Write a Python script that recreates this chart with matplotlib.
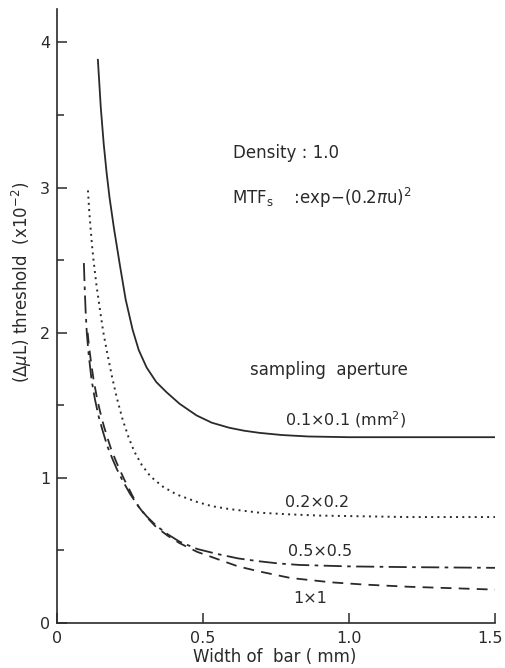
import matplotlib
matplotlib.use("Agg")
import matplotlib.pyplot as plt
import matplotlib.transforms as mtransforms
from matplotlib.ticker import MultipleLocator

# ---- data ----
x_01 = [0.14, 0.15, 0.16, 0.17, 0.18, 0.195, 0.215, 0.235, 0.259, 0.28, 0.307, 0.34, 0.375,
        0.42, 0.478, 0.53, 0.59, 0.64, 0.693, 0.77, 0.86, 1.0, 1.2, 1.5]
y_01 = [3.88, 3.55, 3.30, 3.10, 2.93, 2.72, 2.47, 2.23, 2.02, 1.88, 1.76, 1.66, 1.59,
        1.51, 1.43, 1.38, 1.345, 1.325, 1.31, 1.295, 1.285, 1.28, 1.28, 1.28]

x_02 = [0.106, 0.11, 0.115, 0.12, 0.125, 0.135, 0.147, 0.158, 0.17, 0.188, 0.205, 0.225, 0.245,
        0.265, 0.29, 0.32, 0.362, 0.41, 0.478, 0.53, 0.59, 0.693, 0.8, 0.9, 1.2, 1.5]
y_02 = [2.98, 2.85, 2.72, 2.60, 2.50, 2.33, 2.16, 2.01, 1.88, 1.70, 1.55, 1.40, 1.28,
        1.18, 1.09, 1.01, 0.94, 0.885, 0.835, 0.805, 0.785, 0.76, 0.748, 0.74, 0.73, 0.73]

x_05 = [0.092, 0.095, 0.098, 0.102, 0.108, 0.118, 0.13, 0.143, 0.157, 0.172, 0.19, 0.205, 0.225,
        0.25, 0.28, 0.307, 0.34, 0.38, 0.42, 0.48, 0.55, 0.62, 0.693, 0.76, 0.83, 1.0, 1.2, 1.5]
y_05 = [2.48, 2.30, 2.15, 2.00, 1.86, 1.68, 1.54, 1.42, 1.32, 1.22, 1.13, 1.06, 0.98,
        0.89, 0.80, 0.735, 0.67, 0.61, 0.56, 0.51, 0.475, 0.445, 0.425, 0.41, 0.40, 0.39, 0.385, 0.38]

x_1 = [0.105, 0.11, 0.117, 0.125, 0.135, 0.147, 0.16, 0.172, 0.185, 0.205, 0.23, 0.26, 0.28,
       0.307, 0.34, 0.38, 0.42, 0.48, 0.55, 0.62, 0.693, 0.8, 0.94, 1.05, 1.2, 1.35, 1.5]
y_1 = [2.00, 1.90, 1.79, 1.68, 1.57, 1.46, 1.36, 1.28, 1.20, 1.10, 0.99, 0.87, 0.80,
       0.73, 0.66, 0.60, 0.55, 0.49, 0.44, 0.39, 0.355, 0.31, 0.28, 0.265, 0.25, 0.24, 0.23]

x_ticks = [0, 0.5, 1.0, 1.5]
x_tick_labels = ["0", "0.5", "1.0", "1.5"]
y_ticks = [0, 1, 2, 3, 4]
y_tick_labels = ["0", "1", "2", "3", "4"]

series_labels = ["0.1\u00d70.1 (mm$^2$)", "0.2\u00d70.2", "0.5\u00d70.5", "1\u00d71"]

# ---- figure ----
W, H = 506, 668
fig = plt.figure(figsize=(W / 100, H / 100), dpi=100)
ax = fig.add_axes([57 / W, 1 - 623 / H, (495 - 57) / W, (623 - 9) / H])

col = "#2a2a2a"
ax.plot(x_01, y_01, color=col, lw=1.3, ls="-")
ax.plot(x_02, y_02, color=col, lw=1.4, ls=(0, (1, 2.2)))
ax.plot(x_05, y_05, color=col, lw=1.3, ls=(0, (10, 3, 2, 3)))
ax.plot(x_1, y_1, color=col, lw=1.3, ls=(0, (6, 4)))

ax.set_xlim(0, 1.5)
ax.set_ylim(0, 4.23)
for s in ["top", "right"]:
    ax.spines[s].set_visible(False)
for s in ["left", "bottom"]:
    ax.spines[s].set_color(col)
    ax.spines[s].set_linewidth(1.2)

ax.set_xticks(x_ticks)
ax.set_xticklabels(x_tick_labels)
ax.set_yticks(y_ticks)
ax.set_yticklabels(y_tick_labels)
ax.yaxis.set_minor_locator(MultipleLocator(0.5))
ax.tick_params(axis="both", which="major", direction="in", length=7, width=1.1,
               color=col, labelsize=11.5, labelcolor=col)
ax.tick_params(axis="y", which="minor", direction="in", length=5, width=1.1, color=col)
ax.tick_params(axis="x", which="major", pad=6)
ax.tick_params(axis="y", which="major", pad=5)

# nudge the last x tick label so it stays inside the canvas
last = ax.get_xticklabels()[-1]
last.set_transform(last.get_transform() + mtransforms.ScaledTranslation(-5 / 100, 0, fig.dpi_scale_trans))

fs = 12
ax.text(0.604, 3.24, "Density : 1.0", fontsize=fs, color=col, va="center", ha="left")
ax.text(0.60, 2.93, r"MTF$_\mathregular{s}$    :exp$-$(0.2$\pi$u)$^2$", fontsize=fs,
        color=col, va="center", ha="left")
ax.text(0.66, 1.745, "sampling  aperture", fontsize=fs, color=col, va="center", ha="left")

label_pos = [(0.78, 1.40), (0.78, 0.83), (0.79, 0.49), (0.81, 0.17)]
for (tx, ty), lab in zip(label_pos, series_labels):
    ax.text(tx, ty, lab, fontsize=11.5, color=col, va="center", ha="left")

fig.text(22 / W, 1 - 282 / H, r"($\Delta\mu$L) threshold  (x10$^{-2}$)", rotation=90,
         fontsize=fs, color=col, ha="center", va="center")
fig.text(275 / W, 1 - 657 / H, "Width of  bar ( mm)", fontsize=fs, color=col,
         ha="center", va="center")

fig.savefig("out.png", dpi=100)
